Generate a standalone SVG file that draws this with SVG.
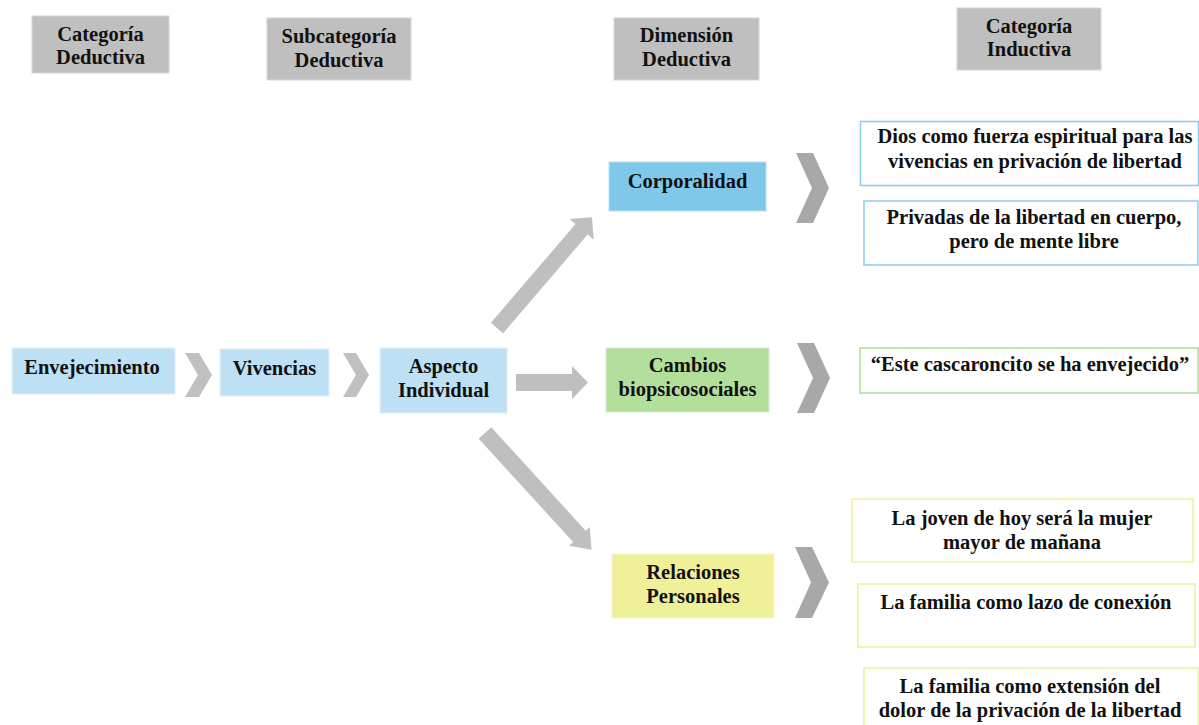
<svg xmlns="http://www.w3.org/2000/svg" width="1199" height="725" viewBox="0 0 1199 725">
<style>
text{font-family:"Liberation Serif","Times New Roman",serif;font-weight:bold;font-size:20.5px;fill:#111;text-anchor:middle}
.hdr{fill:#BFBFBF;stroke:#D6D6D6;stroke-width:1}
.lb{fill:#BDE0F5;stroke:#E2F0FA;stroke-width:1}
.sky{fill:#80C8EA;stroke:#B5E0F3;stroke-width:1}
.grn{fill:#B3DF9D;stroke:#D3EDC6;stroke-width:1}
.yel{fill:#F0F098;stroke:#F7F7C8;stroke-width:1}
.ob{fill:#fff;stroke:#8DCBEA;stroke-width:1.5}
.og{fill:#fff;stroke:#ACDE94;stroke-width:1.5}
.oy{fill:#fff;stroke:#EFEF9E;stroke-width:1.5}
.chs{fill:#C0C0C0}
.chb{fill:#A8A8A8}
.arr{fill:#BFBFBF}
</style>
<g id="hdr-categoria-deductiva"><rect class="hdr" x="32" y="16" width="137" height="57"/><text x="100.5" y="41">Categoría</text><text x="100.5" y="64">Deductiva</text></g>
<g id="hdr-subcategoria-deductiva"><rect class="hdr" x="267" y="18" width="144" height="62"/><text x="339" y="43">Subcategoría</text><text x="339" y="67">Deductiva</text></g>
<g id="hdr-dimension-deductiva"><rect class="hdr" x="614" y="18" width="145" height="62"/><text x="686.5" y="42">Dimensión</text><text x="686.5" y="66">Deductiva</text></g>
<g id="hdr-categoria-inductiva"><rect class="hdr" x="957" y="8" width="144" height="62"/><text x="1029" y="33">Categoría</text><text x="1029" y="56">Inductiva</text></g>

<g id="n-envejecimiento"><rect class="lb" x="12" y="348" width="163" height="46"/><text x="92" y="374">Envejecimiento</text></g>
<g id="n-vivencias"><rect class="lb" x="220" y="349" width="109" height="47"/><text x="274.5" y="375">Vivencias</text></g>
<g id="n-aspecto"><rect class="lb" x="380" y="348" width="127" height="65"/><text x="443.5" y="373">Aspecto</text><text x="443.5" y="397">Individual</text></g>
<g id="n-corporalidad"><rect class="sky" x="609" y="162" width="157" height="49"/><text x="687.5" y="188">Corporalidad</text></g>
<g id="n-cambios"><rect class="grn" x="606" y="348" width="163" height="64"/><text x="687.5" y="372">Cambios</text><text x="687.5" y="396">biopsicosociales</text></g>
<g id="n-relaciones"><rect class="yel" x="612" y="554" width="162" height="64"/><text x="693" y="579">Relaciones</text><text x="693" y="603">Personales</text></g>

<g id="n-dios"><rect class="ob" x="860.5" y="121.5" width="338" height="64"/><text x="1035" y="143">Dios como fuerza espiritual para las</text><text x="1035" y="168">vivencias en privación de libertad</text></g>
<g id="n-privadas"><rect class="ob" x="864" y="201" width="334" height="64"/><text x="1034" y="224">Privadas de la libertad en cuerpo,</text><text x="1034" y="248">pero de mente libre</text></g>
<g id="n-este"><rect class="og" x="860" y="348" width="338" height="45"/><text x="1030" y="371">“Este cascaroncito se ha envejecido”</text></g>
<g id="n-joven"><rect class="oy" x="852" y="499" width="341" height="63"/><text x="1022" y="525">La joven de hoy será la mujer</text><text x="1022" y="549">mayor de mañana</text></g>
<g id="n-lazo"><rect class="oy" x="858" y="584" width="337" height="63"/><text x="1026" y="609">La familia como lazo de conexión</text></g>
<g id="n-extension"><rect class="oy" x="864" y="668" width="334" height="62"/><text x="1030" y="693">La familia como extensión del</text><text x="1030" y="717">dolor de la privación de la libertad</text></g>

<g id="connectors">
<polygon class="chs" points="185,353 199,353 212,375 199,397 185,397 198,375"/>
<polygon class="chs" points="343,353 356,353 369,375 356,397 343,397 356,375"/>
<polygon class="arr" points="516,374 572,374 572,366 588,382.5 572,399 572,391 516,391"/>
<polygon class="arr" transform="translate(497,328) rotate(-49.4)" points="0,-8 130,-8 130,-16 146,0 130,16 130,8 0,8"/>
<polygon class="arr" transform="translate(485,433) rotate(47.6)" points="0,-8.5 140,-8.5 140,-14 158,0 140,14 140,8.5 0,8.5"/>
<polygon class="chb" points="796,153 813,153 829,188 813,223 796,223 812,188"/>
<polygon class="chb" points="797,343 814,343 830,378 814,413 797,413 813,378"/>
<polygon class="chb" points="795,547 812,547 829,582.5 812,618 795,618 811,582.5"/>
</g>
</svg>
